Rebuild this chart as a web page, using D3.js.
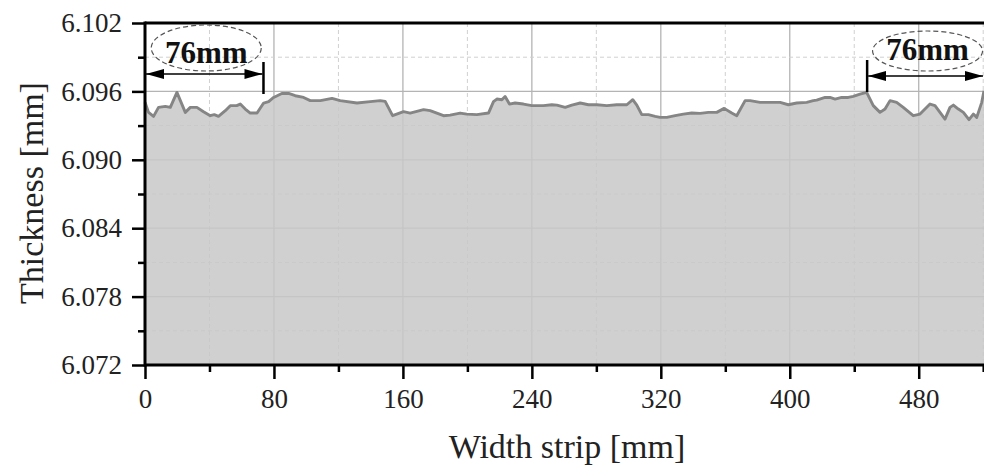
<!DOCTYPE html>
<html>
<head>
<meta charset="utf-8">
<script src="https://cdn.jsdelivr.net/npm/d3@7"></script>
<style>
  body { margin: 0; background: #fff; }
  svg { display: block; font-family: "Liberation Serif", "DejaVu Serif", serif; }
</style>
</head>
<body>
<div id="chart"></div>
<script>
// strip thickness profile
const widthMm = [0, 2.2, 5.3, 8.4, 12.6, 15.7, 19.8, 25, 28.1, 32.2, 36.3, 40.5, 43, 45.6, 49.8, 52.9, 56.9, 59.1,
  62.2, 65.3, 69.5, 73.6, 76.7, 79.8, 84.9, 89.1, 93.2, 98.4, 102.5, 108.8, 116, 121.1, 131.5, 139.7, 145.9, 149,
  153.6, 160.4, 164.5, 172.8, 176.9, 185.2, 189.3, 195.5, 199.6, 205.9, 213.1, 216.2, 218.3, 221.4, 223.4, 226.1,
  229.6, 234.8, 240, 247.2, 252.4, 255.5, 260.7, 264.8, 270, 275.1, 280.3, 286.5, 292.7, 298.9, 302.6, 305.1,
  308.2, 312.3, 316.5, 319.6, 323.7, 328.9, 334, 339.2, 344.4, 349.5, 354.7, 359.3, 364, 367.1, 372.3, 375.4,
  381.6, 387.8, 394, 399.1, 404.3, 410.5, 414.6, 416.7, 421.9, 425, 428.1, 432.2, 436.3, 439.4, 443.6, 447.7,
  451.8, 456, 459.1, 462.2, 466.3, 470.4, 476.6, 480.8, 483.9, 487, 490.1, 493.2, 496.3, 499.4, 501.5, 504.6,
  507.7, 511.2, 513.9, 516, 519.1, 520.5]
const thickness = [6.09504, 6.09416, 6.09381, 6.09460, 6.09469, 6.09460, 6.09591, 6.09416, 6.09460, 6.09460,
  6.09422, 6.09387, 6.09396, 6.09381, 6.09431, 6.09475, 6.09475, 6.09489, 6.09445, 6.09410, 6.09410, 6.09498,
  6.09510, 6.09547, 6.09582, 6.09582, 6.09562, 6.09547, 6.09519, 6.09519, 6.09539, 6.09519, 6.09498, 6.09510,
  6.09519, 6.09512, 6.09387, 6.09422, 6.09410, 6.09440, 6.09431, 6.09387, 6.09392, 6.09410, 6.09401, 6.09396,
  6.09410, 6.09510, 6.09533, 6.09527, 6.09556, 6.09489, 6.09498, 6.09489, 6.09475, 6.09475, 6.09483, 6.09480,
  6.09460, 6.09480, 6.09498, 6.09483, 6.09483, 6.09475, 6.09483, 6.09483, 6.09527, 6.09480, 6.09396, 6.09396,
  6.09381, 6.09372, 6.09372, 6.09387, 6.09401, 6.09410, 6.09407, 6.09416, 6.09416, 6.09451, 6.09410, 6.09387,
  6.09519, 6.09519, 6.09504, 6.09504, 6.09504, 6.09483, 6.09498, 6.09504, 6.09519, 6.09524, 6.09547, 6.09547,
  6.09533, 6.09547, 6.09547, 6.09556, 6.09576, 6.09591, 6.09475, 6.09416, 6.09445, 6.09519, 6.09504, 6.09460,
  6.09387, 6.09401, 6.09445, 6.09489, 6.09475, 6.09416, 6.09357, 6.09460, 6.09480, 6.09445, 6.09416, 6.09352,
  6.09401, 6.09372, 6.09504, 6.09606]

const xMajor = [0, 80, 160, 240, 320, 400, 480]
const xMinor = [40, 120, 200, 280, 360, 440, 520]
const yMajor = [6.072, 6.078, 6.084, 6.090, 6.096, 6.102]
const yMinor = [6.075, 6.081, 6.087, 6.093, 6.099]
const bracketLabel = "76mm"

const width = 984
const height = 467
const margin = {top: 23, right: 0, bottom: 102, left: 145}

const svg = d3.select("#chart")
    .append("svg")
    .attr("width", width)
    .attr("height", height)
    .attr("viewBox", [0, 0, width, height])

const x = d3.scaleLinear().domain([0, 520.5]).range([margin.left, width - margin.right])
const y = d3.scaleLinear().domain([6.072, 6.102]).range([height - margin.bottom, margin.top])

const data = widthMm.map((w, i) => ({w, t: thickness[i]}))

const layer_grid = svg.append("g")
const layer_area = svg.append("g")
const layer_axes = svg.append("g")
const layer_note = svg.append("g")

// grid
layer_grid.selectAll(".vmaj").data(xMajor.slice(1)).enter().append("line")
    .attr("x1", d => x(d)).attr("x2", d => x(d))
    .attr("y1", y(6.102)).attr("y2", y(6.072))
    .attr("stroke", "#b4b4b4").attr("stroke-width", 1.3)
layer_grid.selectAll(".vmin").data(xMinor).enter().append("line")
    .attr("x1", d => x(d)).attr("x2", d => x(d))
    .attr("y1", y(6.102)).attr("y2", y(6.072))
    .attr("stroke", "#d0d0d0").attr("stroke-width", 1).attr("stroke-dasharray", "4,3")
layer_grid.selectAll(".hmaj").data(yMajor.slice(1, -1)).enter().append("line")
    .attr("x1", x(0)).attr("x2", width)
    .attr("y1", d => y(d)).attr("y2", d => y(d))
    .attr("stroke", "#b4b4b4").attr("stroke-width", 1.3)
layer_grid.selectAll(".hmin").data(yMinor).enter().append("line")
    .attr("x1", x(0)).attr("x2", width)
    .attr("y1", d => y(d)).attr("y2", d => y(d))
    .attr("stroke", "#d0d0d0").attr("stroke-width", 1).attr("stroke-dasharray", "4,3")

// filled profile
const area = d3.area().x(d => x(d.w)).y0(y(6.072)).y1(d => y(d.t))
const line = d3.line().x(d => x(d.w)).y(d => y(d.t))

layer_area.append("path")
    .datum(data)
    .attr("fill", "#c8c8c8")
    .attr("fill-opacity", 0.85)
    .attr("d", area)
layer_area.append("path")
    .datum(data)
    .attr("fill", "none")
    .attr("stroke", "#858585")
    .attr("stroke-width", 2.9)
    .attr("stroke-linejoin", "round")
    .attr("d", line)

// axes
const styleAxis = g => {
    g.select(".domain").remove()
    g.selectAll(".tick line").attr("stroke", "#000").attr("stroke-width", 2.5)
    g.selectAll(".tick text").attr("fill", "#222").style("font-size", "27px")
        .style("font-family", "'Liberation Serif', serif")
}

layer_axes.append("g")
    .attr("transform", `translate(0,${y(6.072)})`)
    .call(d3.axisBottom(x).tickValues(xMajor).tickSize(14).tickPadding(10).tickFormat(d3.format("d")))
    .call(styleAxis)
layer_axes.append("g")
    .attr("transform", `translate(0,${y(6.072)})`)
    .call(d3.axisBottom(x).tickValues(xMinor).tickSize(7).tickFormat(""))
    .call(styleAxis)
layer_axes.append("g")
    .attr("transform", `translate(${x(0)},0)`)
    .call(d3.axisLeft(y).tickValues(yMajor).tickSize(13).tickPadding(10).tickFormat(d3.format(".3f")))
    .call(styleAxis)
layer_axes.append("g")
    .attr("transform", `translate(${x(0)},0)`)
    .call(d3.axisLeft(y).tickValues(yMinor).tickSize(7).tickFormat(""))
    .call(styleAxis)

// frame lines
layer_axes.append("line")
    .attr("x1", x(0)).attr("x2", width).attr("y1", y(6.072)).attr("y2", y(6.072))
    .attr("stroke", "#000").attr("stroke-width", 3)
layer_axes.append("line")
    .attr("x1", x(0)).attr("x2", width).attr("y1", y(6.102)).attr("y2", y(6.102))
    .attr("stroke", "#000").attr("stroke-width", 3)
layer_axes.append("line")
    .attr("x1", x(0)).attr("x2", x(0)).attr("y1", y(6.102) - 1.5).attr("y2", y(6.072) + 1.5)
    .attr("stroke", "#000").attr("stroke-width", 3)

// axis titles
layer_axes.append("text")
    .attr("x", 567).attr("y", 458)
    .attr("text-anchor", "middle")
    .style("font-size", "34px").attr("fill", "#222")
    .text("Width strip [mm]")
layer_axes.append("text")
    .attr("transform", "translate(43,193) rotate(-90)")
    .attr("text-anchor", "middle")
    .style("font-size", "34px").attr("fill", "#222")
    .text("Thickness [mm]")

// 76mm brackets
const defs = svg.append("defs")
defs.append("marker")
    .attr("id", "arrow")
    .attr("viewBox", "0 0 18 10")
    .attr("refX", 18).attr("refY", 5)
    .attr("markerWidth", 18).attr("markerHeight", 10)
    .attr("markerUnits", "userSpaceOnUse")
    .attr("orient", "auto-start-reverse")
    .append("path").attr("d", "M0,0L18,5L0,10Z").attr("fill", "#000")

const brackets = [
    {from: 0, to: 73.5, tick: 73.5, ay: 74, tickY: [62, 94], cy: 48, ry: 23, ty: 63},
    {from: 448, to: 520.5, tick: 448, ay: 76, tickY: [60, 92], cy: 51, ry: 20, ty: 60}
]
brackets.forEach(b => {
    const g = layer_note.append("g")
    g.append("line")
        .attr("x1", x(b.from) + 1).attr("x2", x(b.to) - 1)
        .attr("y1", b.ay).attr("y2", b.ay)
        .attr("stroke", "#000").attr("stroke-width", 1.5)
        .attr("marker-start", "url(#arrow)").attr("marker-end", "url(#arrow)")
    g.append("line")
        .attr("x1", x(b.tick)).attr("x2", x(b.tick))
        .attr("y1", b.tickY[0]).attr("y2", b.tickY[1])
        .attr("stroke", "#000").attr("stroke-width", 2.5)
    const cx = x((b.from + b.to) / 2) + 2
    g.append("ellipse")
        .attr("cx", cx).attr("cy", b.cy)
        .attr("rx", 55).attr("ry", b.ry)
        .attr("fill", "none").attr("stroke", "#555")
        .attr("stroke-width", 1.2).attr("stroke-dasharray", "5,3")
    g.append("text")
        .attr("x", cx).attr("y", b.ty)
        .attr("text-anchor", "middle")
        .style("font-size", "31px").style("font-weight", "bold").attr("fill", "#111")
        .text(bracketLabel)
})
</script>
</body>
</html>
